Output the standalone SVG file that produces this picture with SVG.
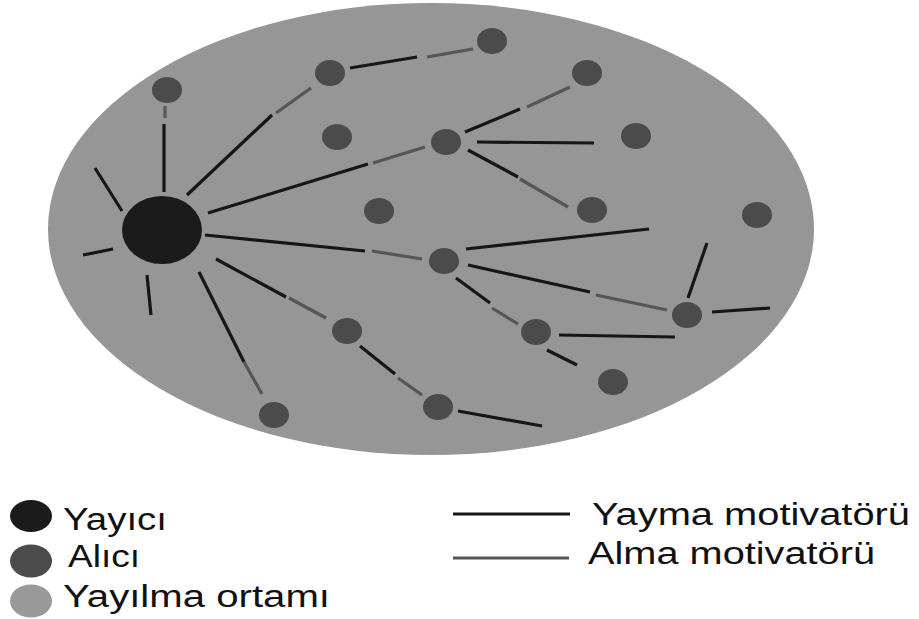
<svg xmlns="http://www.w3.org/2000/svg" width="919" height="619" viewBox="0 0 919 619">
<style>
.medium{fill:#969696}
.src{fill:#1b1b1b}
.rcv{fill:#4b4b4b}
.send{stroke:#161616;stroke-width:3.2;stroke-linecap:butt;fill:none}
.recv{stroke:#565656;stroke-width:3.2;stroke-linecap:butt;fill:none}
.lbl{font-family:"Liberation Sans",Arial,sans-serif;font-size:31px;fill:#111}
</style>
<g id="medium"><ellipse class="medium" cx="431" cy="229" rx="383" ry="226"/></g>
<g id="connectors">
<line class="send" x1="95" y1="168" x2="122" y2="211"/>
<line class="send" x1="83" y1="255" x2="113" y2="249"/>
<line class="send" x1="147" y1="275" x2="151" y2="315"/>
<line class="send" x1="164" y1="192" x2="164" y2="124"/>
<line class="recv" x1="165" y1="118" x2="165" y2="106"/>
<line class="send" x1="187" y1="195" x2="272" y2="115"/>
<line class="recv" x1="276" y1="113" x2="311" y2="88"/>
<line class="send" x1="350" y1="68" x2="417" y2="57"/>
<line class="recv" x1="427" y1="57" x2="473" y2="49"/>
<line class="send" x1="208" y1="213" x2="368" y2="164"/>
<line class="recv" x1="373" y1="163" x2="425" y2="147"/>
<line class="send" x1="465" y1="132" x2="520" y2="109"/>
<line class="recv" x1="527" y1="107" x2="570" y2="87"/>
<line class="send" x1="477" y1="142" x2="594" y2="143"/>
<line class="send" x1="468" y1="150" x2="518" y2="177"/>
<line class="recv" x1="520" y1="179" x2="568" y2="207"/>
<line class="send" x1="205" y1="235" x2="365" y2="251"/>
<line class="recv" x1="372" y1="251" x2="422" y2="259"/>
<line class="send" x1="199" y1="272" x2="244" y2="362"/>
<line class="recv" x1="244" y1="362" x2="262" y2="394"/>
<line class="send" x1="216" y1="259" x2="286" y2="297"/>
<line class="recv" x1="289" y1="298" x2="326" y2="318"/>
<line class="send" x1="360" y1="346" x2="395" y2="374"/>
<line class="recv" x1="398" y1="378" x2="422" y2="395"/>
<line class="send" x1="458" y1="411" x2="542" y2="426"/>
<line class="send" x1="466" y1="249" x2="649" y2="229"/>
<line class="send" x1="468" y1="265" x2="590" y2="292"/>
<line class="recv" x1="596" y1="295" x2="667" y2="310"/>
<line class="send" x1="456" y1="278" x2="490" y2="303"/>
<line class="recv" x1="492" y1="308" x2="518" y2="324"/>
<line class="send" x1="559" y1="335" x2="675" y2="337"/>
<line class="send" x1="547" y1="350" x2="577" y2="365"/>
<line class="send" x1="688" y1="298" x2="707" y2="243"/>
<line class="send" x1="712" y1="312" x2="770" y2="308"/>
</g>
<g id="source"><ellipse class="src" cx="162" cy="230" rx="40" ry="34"/></g>
<g id="r1"><ellipse class="rcv" cx="167" cy="90" rx="15" ry="13"/></g>
<g id="r2"><ellipse class="rcv" cx="330" cy="73" rx="15" ry="13"/></g>
<g id="r3"><ellipse class="rcv" cx="492" cy="41" rx="15" ry="13"/></g>
<g id="r4"><ellipse class="rcv" cx="587" cy="73" rx="15" ry="13"/></g>
<g id="r5"><ellipse class="rcv" cx="337" cy="137" rx="15" ry="13"/></g>
<g id="r6"><ellipse class="rcv" cx="446" cy="142" rx="15" ry="13"/></g>
<g id="r7"><ellipse class="rcv" cx="636" cy="136" rx="15" ry="13"/></g>
<g id="r8"><ellipse class="rcv" cx="379" cy="211" rx="15" ry="13"/></g>
<g id="r9"><ellipse class="rcv" cx="592" cy="210" rx="15" ry="13"/></g>
<g id="r10"><ellipse class="rcv" cx="757" cy="215" rx="15" ry="13"/></g>
<g id="r11"><ellipse class="rcv" cx="444" cy="261" rx="15" ry="13"/></g>
<g id="r12"><ellipse class="rcv" cx="347" cy="331" rx="15" ry="13"/></g>
<g id="r13"><ellipse class="rcv" cx="536" cy="332" rx="15" ry="13"/></g>
<g id="r14"><ellipse class="rcv" cx="687" cy="315" rx="15" ry="13"/></g>
<g id="r15"><ellipse class="rcv" cx="613" cy="382" rx="15" ry="13"/></g>
<g id="r16"><ellipse class="rcv" cx="274" cy="415" rx="15" ry="13"/></g>
<g id="r17"><ellipse class="rcv" cx="438" cy="407" rx="15" ry="13"/></g>
<g id="legend">
<ellipse class="src" cx="31" cy="516" rx="21" ry="16"/>
<ellipse class="rcv" cx="31" cy="561" rx="21" ry="16.5"/>
<ellipse cx="31" cy="601" rx="21" ry="16.5" fill="#999999"/>
<text class="lbl" x="63" y="530" textLength="104" lengthAdjust="spacingAndGlyphs">Yayıcı</text>
<text class="lbl" x="68" y="567" textLength="72" lengthAdjust="spacingAndGlyphs">Alıcı</text>
<text class="lbl" x="63" y="607" textLength="267" lengthAdjust="spacingAndGlyphs">Yayılma ortamı</text>
<line class="send" x1="453" y1="514" x2="570" y2="514"/>
<line class="recv" x1="453" y1="558" x2="569" y2="558"/>
<text class="lbl" x="592" y="525" textLength="318" lengthAdjust="spacingAndGlyphs">Yayma motivatörü</text>
<text class="lbl" x="588" y="564" textLength="287" lengthAdjust="spacingAndGlyphs">Alma motivatörü</text>
</g>
</svg>
